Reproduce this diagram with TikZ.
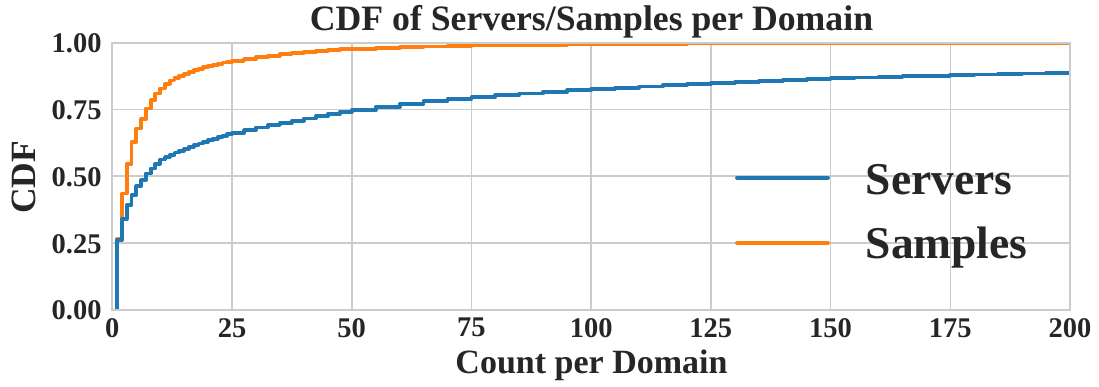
\documentclass[tikz,border=0pt]{standalone}
\usepackage{fontspec}
\setmainfont{Liberation Serif}
\definecolor{txt}{HTML}{262626}
\definecolor{gridc}{HTML}{CCCCCC}
\definecolor{cblue}{HTML}{1F77B4}
\definecolor{corange}{HTML}{FF7F0E}
\tikzset{
  ticklabel/.style={text=txt, font=\fontsize{28.5}{30}\selectfont\bfseries, inner sep=0pt},
  axislabel/.style={text=txt, font=\fontsize{34}{36}\selectfont\bfseries, inner sep=0pt},
  ylabelstyle/.style={text=txt, font=\fontsize{35.5}{38}\selectfont\bfseries, inner sep=0pt},
  titlelabel/.style={text=txt, font=\fontsize{35.7}{38}\selectfont\bfseries, inner sep=0pt},
  legendlabel/.style={text=txt, font=\fontsize{45.5}{48}\selectfont\bfseries, inner sep=0pt},
  gridline/.style={draw=gridc, line width=1.6pt},
  spine/.style={draw=gridc, line width=2pt},
  curve/.style={line width=3.8pt, line join=round},
  legendline/.style={line width=3.8pt, line cap=round},
}
\begin{document}
\begin{tikzpicture}[x=1pt,y=1pt]
\fill[white] (0,0) rectangle (1099,387);
\useasboundingbox (0,0) rectangle (1099,387);

% plotting area: data x in [0,200], data y in [0,1]
\begin{scope}[shift={(112.3,77.3)}, x=4.7885pt, y=266.9pt]
  \foreach \gx in {0,25,...,200} \draw[gridline] (\gx,0) -- (\gx,1);
  \foreach \gy in {0,0.25,0.5,0.75,1} \draw[gridline] (0,\gy) -- (200,\gy);

  \begin{scope}
    \clip (0,0) rectangle (200,1);
    % Samples per domain
    \draw[curve, corange] plot[const plot] coordinates {
      (1,0) (1,0.266) (2,0.435) (3,0.547) (4,0.628) (5,0.679) (6,0.714)
      (7,0.754) (8,0.785) (9,0.81) (10,0.829) (11,0.846) (12,0.859)
      (13,0.869) (14,0.877) (15,0.884) (16,0.891) (17,0.897) (18,0.903)
      (19,0.909) (20,0.914) (21,0.918) (22,0.922) (23,0.926) (24,0.929)
      (25,0.932) (27.5,0.939) (30,0.946) (32.5,0.952) (35,0.958)
      (37.5,0.963) (40,0.967) (42.5,0.970) (45,0.973) (47.5,0.976)
      (50,0.978) (55,0.981) (60,0.984) (65,0.986) (70,0.988) (75,0.990)
      (80,0.991) (85,0.992) (90,0.993) (95,0.994) (100,0.995) (110,0.996)
      (120,0.997) (135,0.998) (150,0.999) (170,1.0) (205,1.0)};
    % Servers per domain
    \draw[curve, cblue] plot[const plot] coordinates {
      (1,0) (1,0.26) (2,0.339) (3,0.391) (4,0.429) (5,0.462) (6,0.485)
      (7,0.51) (8,0.529) (9,0.547) (10,0.563) (11,0.572) (12,0.581)
      (13,0.589) (14,0.596) (15,0.603) (16,0.61) (17,0.617) (18,0.623)
      (19,0.629) (20,0.635) (21,0.641) (22,0.647) (23,0.652) (24,0.658)
      (25,0.663) (27.5,0.673) (30,0.683) (32.5,0.692) (35,0.700)
      (37.5,0.708) (40,0.716) (42.5,0.725) (45,0.733) (47.5,0.741)
      (50,0.748) (55,0.760) (60,0.771) (65,0.781) (70,0.789) (75,0.797)
      (80,0.804) (85,0.810) (90,0.816) (95,0.822) (100,0.827) (105,0.832)
      (110,0.836) (115,0.841) (120,0.845) (125,0.849) (130,0.853)
      (135,0.857) (140,0.860) (145,0.864) (150,0.867) (155,0.870)
      (160,0.872) (165,0.875) (170,0.877) (175,0.879) (180,0.881)
      (185,0.883) (190,0.885) (195,0.887) (200,0.889) (205,0.889)};
  \end{scope}

  \draw[spine] (0,0) rectangle (200,1);

  % tick labels
  \foreach \gx in {0,25,...,200}
    \node[ticklabel, anchor=north] (xt\gx) at ([yshift=-8.3pt]\gx,0) {\gx};
  \foreach \gy/\lab [count=\i] in {0/0.00,0.25/0.25,0.5/0.50,0.75/0.75,1/1.00}
    \node[ticklabel, anchor=east] (yt\i) at ([xshift=-10.6pt, yshift=-0.8pt]0,\gy) {\lab};
\end{scope}

% titles and axis labels
\node[titlelabel, anchor=base] (title) at (591.5,356) {CDF of Servers/Samples per Domain};
\node[axislabel, anchor=base] (xlabel) at (591.5,13.7) {Count per Domain};
\node[ylabelstyle, rotate=90] (ylabel) at (24.3,209.5) {CDF};

% legend
\coordinate (lsA) at (737,209.3);
\coordinate (leA) at (828,209.3);
\coordinate (lsB) at (737,144.3);
\coordinate (leB) at (828,144.3);
\draw[legendline, cblue] (lsA) -- (leA);
\draw[legendline, corange] (lsB) -- (leB);
\node[legendlabel, anchor=base west] (legServers) at (865.5,192.7) {Servers};
\node[legendlabel, anchor=base west] (legSamples) at (865.5,128) {Samples};
\end{tikzpicture}
\end{document}
